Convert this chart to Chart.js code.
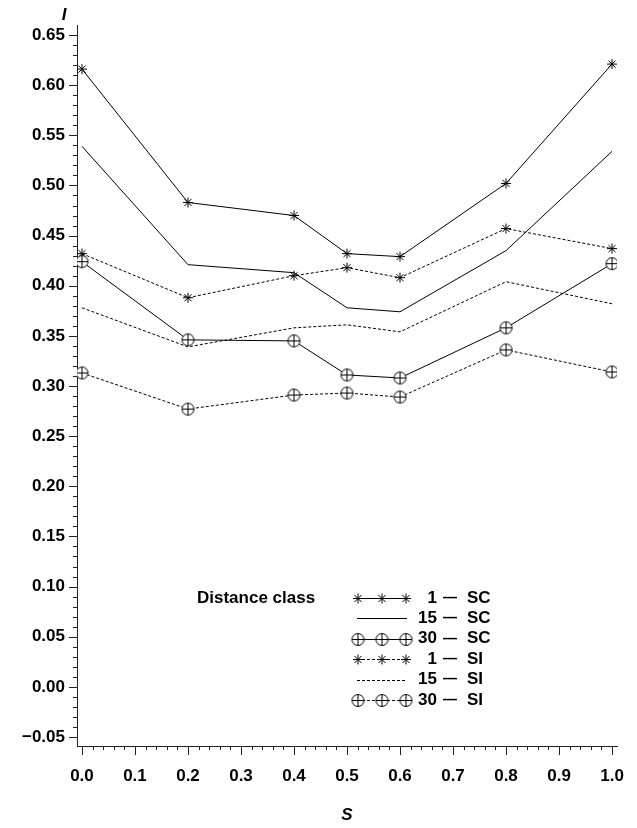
<!DOCTYPE html>
<html>
<head>
<meta charset="utf-8">
<script src="https://cdn.jsdelivr.net/npm/chart.js@4/dist/chart.umd.min.js"></script>
<style>
html,body{margin:0;padding:0;background:#fff;}
canvas{display:block;}
</style>
</head>
<body>
<canvas id="c" width="637" height="828"></canvas>
<script>
// ---- data ----
const sValues = [0, 0.2, 0.4, 0.5, 0.6, 0.8, 1.0];
const sc1  = [0.616, 0.483, 0.470, 0.432, 0.429, 0.502, 0.621];
const sc15 = [0.539, 0.421, 0.413, 0.378, 0.374, 0.435, 0.534];
const sc30 = [0.424, 0.346, 0.345, 0.311, 0.308, 0.358, 0.422];
const si1  = [0.432, 0.388, 0.410, 0.418, 0.408, 0.457, 0.437];
const si15 = [0.378, 0.339, 0.358, 0.361, 0.354, 0.404, 0.382];
const si30 = [0.313, 0.277, 0.291, 0.293, 0.289, 0.336, 0.314];
const seriesNames = ['1', '15', '30', '1', '15', '30'];
const seriesGroups = ['SC', 'SC', 'SC', 'SI', 'SI', 'SI'];
const legendTitle = 'Distance class';
const xTitle = 'S';
const yTitle = 'I';

// circle-plus marker
function makeCirclePlus() {
  const cv = document.createElement('canvas');
  cv.width = 15; cv.height = 15;
  const g = cv.getContext('2d');
  g.strokeStyle = '#000'; g.lineWidth = 1; g.fillStyle = '#fff';
  g.beginPath(); g.arc(7.5, 7.5, 6, 0, Math.PI * 2); g.fill(); g.stroke();
  g.beginPath(); g.moveTo(1.5, 7.5); g.lineTo(13.5, 7.5); g.moveTo(7.5, 1.5); g.lineTo(7.5, 13.5); g.stroke();
  return cv;
}
const circlePlus = makeCirclePlus();

const toPts = arr => arr.map((v, i) => ({x: sValues[i], y: v}));
function ds(arr, dashed, style) {
  return {
    data: toPts(arr),
    borderColor: '#000',
    backgroundColor: '#000',
    borderWidth: 1,
    borderDash: dashed ? [3, 2] : [],
    pointStyle: style || false,
    pointRadius: style ? 5 : 0,
    pointBorderColor: '#000',
    pointBorderWidth: 1,
    tension: 0,
    fill: false
  };
}

const FONT = 'Liberation Sans, Arial, sans-serif';

const ticksPlugin = {
  id: 'ticksPlugin',
  afterDraw(chart) {
    const ctx = chart.ctx;
    const xs = chart.scales.x, ys = chart.scales.y;
    const ca = chart.chartArea;
    ctx.save();
    ctx.strokeStyle = '#222';
    ctx.lineWidth = 1;
    ctx.beginPath();
    for (let i = 0; i <= 50; i++) {
      const px = Math.round(xs.getPixelForValue(i / 50)) + 0.5;
      const len = (i % 5 === 0) ? 9 : 4;
      ctx.moveTo(px, ca.bottom);
      ctx.lineTo(px, ca.bottom + len);
    }
    for (let i = -5; i <= 65; i++) {
      const py = Math.round(ys.getPixelForValue(i / 100)) + 0.5;
      const len = (i % 5 === 0) ? 8 : 4;
      ctx.moveTo(ca.left, py);
      ctx.lineTo(ca.left - len, py);
    }
    ctx.stroke();

    // axis titles
    ctx.fillStyle = '#000';
    ctx.font = 'italic bold 17px ' + FONT;
    ctx.textAlign = 'center';
    ctx.textBaseline = 'middle';
    ctx.fillText(xTitle, xs.getPixelForValue(0.5), 815);
    ctx.fillText(yTitle, 64, 15);

    // legend
    ctx.font = 'bold 17px ' + FONT;
    ctx.textAlign = 'left';
    ctx.fillText(legendTitle, 197, 598);
    chart.data.datasets.forEach((d, i) => {
      const y = 598 + i * 20.4;
      ctx.save();
      ctx.strokeStyle = '#000';
      ctx.lineWidth = 1;
      ctx.setLineDash(d.borderDash);
      ctx.beginPath();
      ctx.moveTo(357, Math.round(y) + 0.5);
      ctx.lineTo(407, Math.round(y) + 0.5);
      ctx.stroke();
      ctx.restore();
      if (d.pointStyle) {
        [358, 382, 406].forEach(mx => {
          ctx.save();
          ctx.strokeStyle = '#000';
          ctx.fillStyle = '#fff';
          ctx.lineWidth = 1;
          Chart.helpers.drawPoint(ctx, {pointStyle: d.pointStyle, radius: d.pointRadius, rotation: 0, borderWidth: 1}, mx, Math.round(y) + 0.5);
          ctx.restore();
        });
      }
      ctx.fillStyle = '#000';
      ctx.font = 'bold 17px ' + FONT;
      ctx.textAlign = 'right';
      ctx.fillText(seriesNames[i], 437, y);
      ctx.textAlign = 'center';
      ctx.font = 'bold 14px ' + FONT;
      ctx.fillText('\u2014', 450, y);
      ctx.font = 'bold 17px ' + FONT;
      ctx.textAlign = 'left';
      ctx.fillText(seriesGroups[i], 467, y);
    });
    ctx.restore();
  }
};

new Chart(document.getElementById('c'), {
  type: 'line',
  data: {
    datasets: [
      ds(sc1, false, 'star'),
      ds(sc15, false, null),
      ds(sc30, false, circlePlus),
      ds(si1, true, 'star'),
      ds(si15, true, null),
      ds(si30, true, circlePlus)
    ]
  },
  options: {
    responsive: false,
    animation: false,
    events: [],
    layout: {padding: {left: 0, right: 20, top: 25, bottom: 0}},
    plugins: {legend: {display: false}, tooltip: {enabled: false}, title: {display: false}},
    scales: {
      x: {
        type: 'linear',
        min: -0.0094,
        max: 1.0094,
        grid: {display: false, drawTicks: false},
        border: {display: true, color: '#222', width: 1},
        ticks: {
          stepSize: 0.1,
          includeBounds: false,
          autoSkip: false,
          maxRotation: 0,
          padding: 20,
          color: '#000',
          font: {family: FONT, size: 17, weight: 'bold'},
          callback: v => v.toFixed(1)
        },
        afterFit: s => { s.height = 82; s.paddingLeft = 0; s.paddingRight = 0; }
      },
      y: {
        type: 'linear',
        min: -0.059,
        max: 0.66,
        grid: {display: false, drawTicks: false},
        border: {display: true, color: '#222', width: 1},
        ticks: {
          stepSize: 0.05,
          includeBounds: false,
          autoSkip: false,
          padding: 12,
          color: '#000',
          font: {family: FONT, size: 17, weight: 'bold'},
          callback: v => (v < -0.001 ? '\u2212' + Math.abs(v).toFixed(2) : Math.abs(v).toFixed(2))
        },
        afterFit: s => { s.width = 77; s.paddingTop = 0; s.paddingBottom = 0; }
      }
    }
  },
  plugins: [ticksPlugin]
});
</script>
</body>
</html>
